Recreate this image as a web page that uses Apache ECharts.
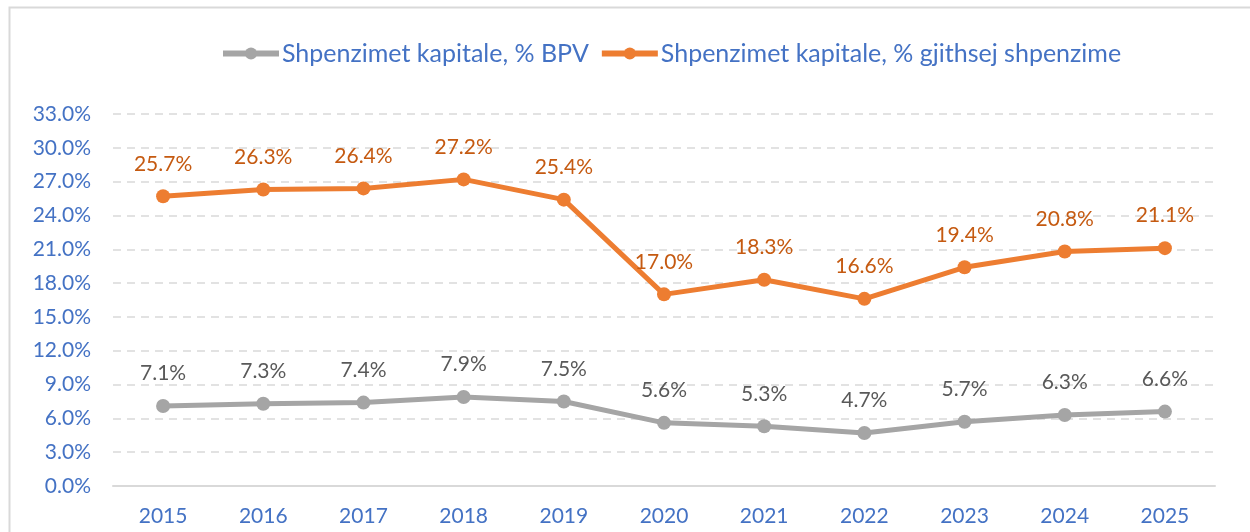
<!DOCTYPE html>
<html><head><meta charset="utf-8">
<script src="https://cdn.jsdelivr.net/npm/echarts@6/dist/echarts.min.js"></script>
<style>html,body{margin:0;padding:0;background:#fff}#c{width:1250px;height:532px}</style>
</head><body><div id="c"></div>
<script>
const categories = ['2015','2016','2017','2018','2019','2020','2021','2022','2023','2024','2025'];
const seriesBPV = [7.1,7.3,7.4,7.9,7.5,5.6,5.3,4.7,5.7,6.3,6.6];
const seriesTotal = [25.7,26.3,26.4,27.2,25.4,17.0,18.3,16.6,19.4,20.8,21.1];
const nameBPV = 'Shpenzimet kapitale, % BPV';
const nameTotal = 'Shpenzimet kapitale, % gjithsej shpenzime';
const FONT = 'Lato';
const chart = echarts.init(document.getElementById('c'), null, {renderer:'canvas'});
chart.setOption({
  animation:false,
  backgroundColor:'#fff',
  graphic:[{type:'rect',left:7,top:5,shape:{width:1300,height:600},style:{fill:'none',stroke:'#d9d9d9',lineWidth:2},silent:true,z:-1}],
  legend:{
    top:36,left:215,itemGap:10,itemWidth:56,itemHeight:15,
    lineStyle:{width:6},
    textStyle:{color:'#4472C4',fontSize:25,fontFamily:FONT,padding:[0,0,0,-2]},
    data:[nameBPV,nameTotal]
  },
  grid:{left:113,right:35,top:114,bottom:46},
  xAxis:{
    type:'category',data:categories,boundaryGap:true,
    axisLine:{lineStyle:{color:'#d9d9d9',width:2}},
    axisTick:{show:false},
    axisLabel:{color:'#4472C4',fontSize:21,fontFamily:FONT,margin:20}
  },
  yAxis:{
    type:'value',min:0,max:33,interval:3,
    axisLine:{show:false},axisTick:{show:false},
    splitLine:{lineStyle:{color:'#d9d9d9',type:[8,6],width:1.5}},
    axisLabel:{color:'#4472C4',fontSize:21,fontFamily:FONT,margin:22,formatter:v=>v.toFixed(1)+'%'}
  },
  series:[
    {name:nameBPV,type:'line',data:seriesBPV,color:'#A5A5A5',symbol:'circle',symbolSize:14,
     lineStyle:{width:5,color:'#A5A5A5'},itemStyle:{color:'#A5A5A5'},
     label:{show:true,position:'top',distance:15,color:'#595959',fontSize:21,fontFamily:FONT,formatter:p=>p.value.toFixed(1)+'%'}},
    {name:nameTotal,type:'line',data:seriesTotal,color:'#ED7D31',symbol:'circle',symbolSize:14,
     lineStyle:{width:5,color:'#ED7D31'},itemStyle:{color:'#ED7D31'},
     label:{show:true,position:'top',distance:15,color:'#C55A11',fontSize:21,fontFamily:FONT,formatter:p=>p.value.toFixed(1)+'%'}}
  ]
});
</script></body></html>
